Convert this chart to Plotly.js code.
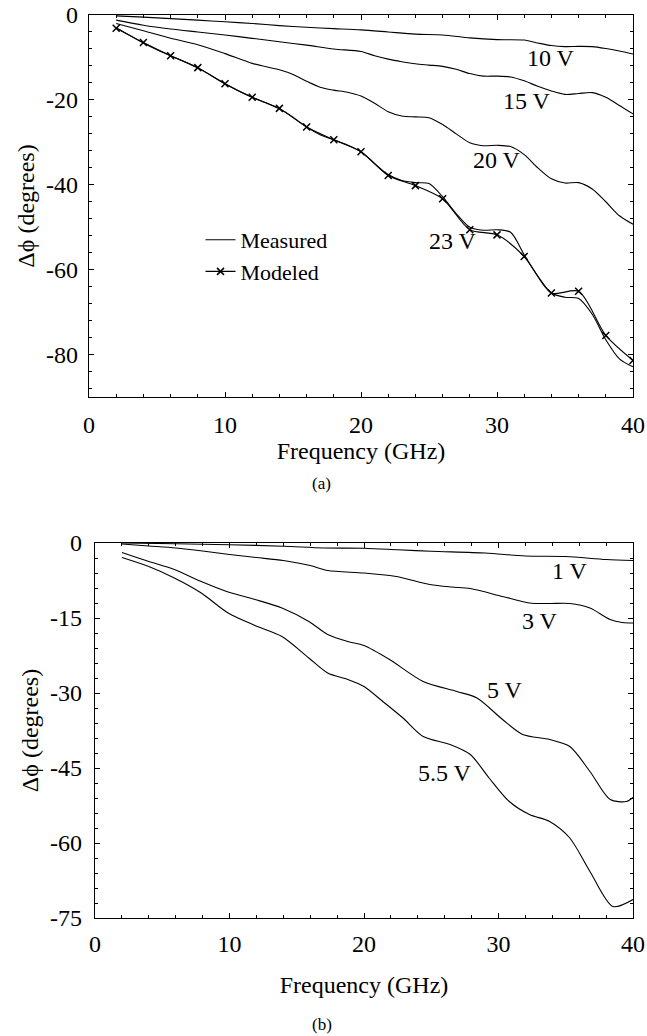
<!DOCTYPE html>
<html>
<head>
<meta charset="utf-8">
<script src="https://cdn.plot.ly/plotly-3.0.1.min.js"></script>
<style>
  html, body { margin: 0; padding: 0; background: #fff; }
  #chart { width: 647px; height: 1036px; }
</style>
</head>
<body>
<div id="chart"></div>
<script>
// ---- (a) phase shift vs frequency, high bias voltages ----
const fA10 = [2, 4, 6, 8, 10, 12, 14, 16, 18, 20, 22, 24, 26, 28, 30, 32, 33, 34, 35, 36, 37, 38, 39, 40];
const v10V = [-0.2, -0.5, -0.85, -1.2, -1.6, -2.0, -2.5, -2.9, -3.2, -3.5, -4.0, -4.5, -4.7, -5.4, -5.8, -5.9, -6.6, -7.2, -7.45, -7.4, -7.45, -7.9, -8.5, -9.2];

const fA15 = [2, 4, 6, 8, 10, 12, 14, 16, 18, 20, 21, 22, 23, 24, 25, 26, 27, 28, 29, 30, 31, 32, 33, 34, 35, 36, 37, 38, 39, 40];
const v15V = [-1.2, -2.4, -3.3, -4.0, -4.7, -5.5, -6.3, -7.1, -8.0, -8.6, -9.6, -10.4, -11.0, -11.5, -11.8, -12.1, -12.8, -13.8, -14.4, -14.4, -14.6, -15.5, -16.8, -17.9, -18.7, -18.5, -18.3, -19.4, -21.3, -23.3];

const fA20 = [2, 4, 6, 8, 10, 12, 14, 15, 16, 17, 18, 19, 20, 21, 22, 23, 24, 25, 26, 27, 28, 29, 30, 31, 32, 33, 34, 35, 36, 37, 38, 39, 40];
const v20V = [-2.0, -3.7, -5.5, -7.0, -9.1, -11.4, -12.9, -14.0, -15.6, -17.0, -17.7, -18.2, -19.1, -20.8, -22.8, -23.8, -24.0, -24.2, -25.8, -28.0, -30.1, -30.8, -30.7, -31.0, -32.9, -36.0, -38.6, -39.6, -39.5, -41.0, -44.0, -47.3, -49.3];

const fA23 = [2, 3, 4, 5, 6, 7, 8, 9, 10, 11, 12, 13, 14, 15, 16, 17, 18, 19, 20, 21, 22, 23, 24, 25, 26, 27, 28, 29, 30, 31, 32, 33, 34, 35, 36, 37, 38, 39, 40];
const v23V = [-3.0, -4.8, -6.6, -8.2, -9.6, -11.0, -12.5, -14.3, -16.2, -17.9, -19.4, -20.7, -22.1, -24.1, -26.4, -28.2, -29.4, -30.6, -32.2, -35.0, -37.6, -39.0, -39.5, -39.7, -42.8, -46.8, -50.0, -50.7, -50.6, -51.2, -56.5, -61.5, -65.5, -66.5, -66.8, -70.5, -76.5, -81.0, -82.9];

// modeled 23 V response, one point every 2 GHz
const fModel = [2, 4, 6, 8, 10, 12, 14, 16, 18, 20, 22, 24, 26, 28, 30, 32, 34, 36, 38, 40];
const vModel = [-3.1, -6.5, -9.6, -12.4, -16.2, -19.4, -22.0, -26.4, -29.4, -32.2, -37.8, -40.2, -43.3, -50.6, -51.8, -56.9, -65.5, -65.1, -75.5, -81.4];

// ---- (b) phase shift vs frequency, low bias voltages ----
const fB1 = [2, 6, 10, 14, 17, 20, 22.5, 25, 29, 32, 35, 38, 40];
const v1V = [0, -0.15, -0.35, -0.65, -1.0, -1.05, -1.35, -1.65, -2.0, -2.6, -2.7, -3.3, -3.5];

const fB3 = [2, 4, 6, 8, 10, 12, 14, 16, 17.3, 20, 22.4, 24.9, 26.5, 27.9, 30.3, 32.3, 33.8, 35.3, 36.8, 38.3, 39.2, 40];
const v3V = [-0.2, -0.6, -1.0, -1.6, -2.3, -2.9, -3.5, -4.5, -5.5, -6.0, -6.7, -8.3, -8.8, -9.1, -10.7, -12.0, -12.1, -12.1, -13.0, -15.3, -15.9, -16.0];

const fB5 = [2, 4, 5.9, 7.9, 9.9, 11.9, 13.9, 15.9, 17.3, 18.8, 20, 21.9, 24.4, 26.9, 28.4, 30.3, 31.8, 33.8, 35.3, 36.8, 38.3, 39.5, 40];
const v5V = [-1.9, -3.7, -5.3, -7.7, -9.8, -11.3, -13.0, -15.7, -18.3, -19.7, -20.5, -23.3, -27.7, -29.7, -31.0, -35.3, -38.3, -39.3, -40.7, -45.7, -51.3, -51.7, -50.9];

const fB55 = [2, 4, 5.9, 7.9, 9.9, 11.9, 13.9, 15.9, 17.3, 18.8, 20, 21.4, 22.9, 24.4, 26.4, 27.9, 29.3, 30.8, 32.3, 33.8, 35.3, 36.8, 38.5, 40];
const v55V = [-2.9, -4.7, -7.0, -10.0, -14.0, -16.5, -18.7, -23.0, -26.0, -27.3, -28.7, -31.7, -35.0, -38.7, -40.3, -42.3, -47.0, -51.7, -54.3, -55.7, -59.0, -65.7, -72.7, -71.3];

// tick values and their printed labels (plain hyphen for negatives)
const xTicks = [0, 10, 20, 30, 40];
const xTickText = ["0", "10", "20", "30", "40"];
const yTicksA = [0, -20, -40, -60, -80];
const yTickTextA = ["0", "-20", "-40", "-60", "-80"];
const yTicksB = [0, -15, -30, -45, -60, -75];
const yTickTextB = ["0", "-15", "-30", "-45", "-60", "-75"];

// curve labels: [text, frequency, phase]
const labelsA = [["10 V", 33.97, -10.1], ["15 V", 32.2, -20.2], ["20 V", 30.0, -34.1], ["23 V", 26.8, -53.2]];
const labelsB = [["1 V", 35.3, -5.6], ["3 V", 33.1, -15.6], ["5 V", 30.5, -29.4], ["5.5 V", 26.0, -46.0]];

const FONT = "'Liberation Serif', 'Times New Roman', serif";
const thin = { color: "#000", width: 1.1, shape: "spline", smoothing: 0.8 };

function measured(x, y, xa, ya, legend) {
  return {
    x: x, y: y, xaxis: xa, yaxis: ya, type: "scatter", mode: "lines",
    line: thin, name: "Measured", showlegend: !!legend, hoverinfo: "skip"
  };
}

const traces = [
  measured(fA23, v23V, "x", "y", true),
  measured(fA10, v10V, "x", "y"),
  measured(fA15, v15V, "x", "y"),
  measured(fA20, v20V, "x", "y"),
  {
    x: fModel, y: vModel, xaxis: "x", yaxis: "y", type: "scatter", mode: "lines+markers",
    name: "Modeled", line: thin,
    marker: { symbol: "x-thin", size: 7, color: "#000", line: { color: "#000", width: 1.5 } },
    hoverinfo: "skip"
  },
  measured(fB1, v1V, "x2", "y2"),
  measured(fB3, v3V, "x2", "y2"),
  measured(fB5, v5V, "x2", "y2"),
  measured(fB55, v55V, "x2", "y2")
];

const textFont = { family: FONT, size: 24, color: "#000" };

const annotations = [];
labelsA.forEach(l => annotations.push({
  text: l[0], x: l[1], y: l[2], xref: "x", yref: "y", showarrow: false, font: textFont
}));
labelsB.forEach(l => annotations.push({
  text: l[0], x: l[1], y: l[2], xref: "x2", yref: "y2", showarrow: false, font: textFont
}));
annotations.push({ text: "(a)", xref: "paper", yref: "paper", x: 0.428, y: (918 - 483) / 903,
  yanchor: "middle", showarrow: false, font: { family: FONT, size: 17, color: "#000" } });
annotations.push({ text: "(b)", xref: "paper", yref: "paper", x: 0.428, y: (918 - 1024) / 903,
  yanchor: "middle", showarrow: false, font: { family: FONT, size: 17, color: "#000" } });

function axis(extra) {
  return Object.assign({
    showline: true, linecolor: "#000", linewidth: 1.2, mirror: "ticks",
    ticks: "inside", ticklen: 5, tickwidth: 1, tickcolor: "#000",
    showgrid: false, zeroline: false, fixedrange: true,
    tickmode: "array",
    tickfont: textFont
  }, extra);
}

const minorX = { dtick: 2, tick0: 0, ticks: "inside", ticklen: 3, tickcolor: "#000", showgrid: false };

const layout = {
  width: 647, height: 1036,
  margin: { l: 89, r: 14, t: 15, b: 118 },
  paper_bgcolor: "#fff", plot_bgcolor: "#fff",
  font: { family: FONT, color: "#000" },
  showlegend: true,
  legend: {
    x: 0.205, y: (918 - 219) / 903, xanchor: "left", yanchor: "top",
    bgcolor: "rgba(0,0,0,0)", borderwidth: 0,
    font: { family: FONT, size: 22, color: "#000" }, itemwidth: 30, tracegroupgap: 0
  },
  xaxis: axis({ domain: [0, 1], anchor: "y", range: [0, 40],
    tickvals: xTicks, ticktext: xTickText, minor: minorX,
    ticklabelstandoff: 6,
    title: { text: "Frequency (GHz)", font: textFont, standoff: 0 } }),
  yaxis: axis({ domain: [521 / 903, 1], anchor: "x", range: [-90, 0],
    tickvals: yTicksA, ticktext: yTickTextA,
    minor: { dtick: 4, tick0: 0, ticks: "inside", ticklen: 3, tickcolor: "#000", showgrid: false },
    ticklabelstandoff: 5,
    title: { text: "Δϕ (degrees)", font: textFont, standoff: 4 } }),
  xaxis2: axis({ domain: [6 / 544, 1], anchor: "y2", range: [0, 40],
    tickvals: xTicks, ticktext: xTickText, minor: minorX,
    ticklabelstandoff: 4,
    title: { text: "Frequency (GHz)", font: textFont, standoff: 20 } }),
  yaxis2: axis({ domain: [0, 375 / 903], anchor: "x2", range: [-75, 0],
    tickvals: yTicksB, ticktext: yTickTextB,
    minor: { dtick: 3, tick0: 0, ticks: "inside", ticklen: 3, tickcolor: "#000", showgrid: false },
    ticklabelstandoff: 7,
    title: { text: "Δϕ (degrees)", font: textFont, standoff: 4 } }),
  annotations: annotations
};

Plotly.newPlot("chart", traces, layout, { staticPlot: true, displayModeBar: false });
</script>
</body>
</html>
